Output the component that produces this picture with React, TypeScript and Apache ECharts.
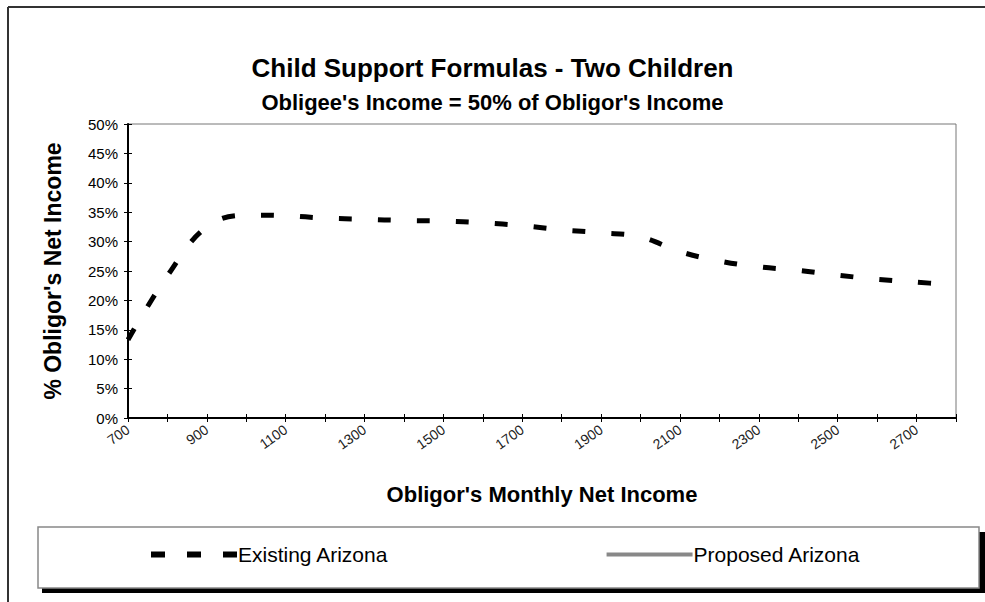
import React, { useEffect, useRef } from "react";
import * as echarts from "echarts";

// Obligor's monthly net income ($), one category per point on the curve
const incomeLevels: string[] = [
  "700", "800", "900", "1000", "1100", "1200", "1300", "1400", "1500", "1600", "1700",
  "1800", "1900", "2000", "2100", "2200", "2300", "2400", "2500", "2600", "2700", "2800",
];

// Support as % of the obligor's net income
const existingArizona: number[] = [
  13.3, 24.2, 32.5, 34.5, 34.4, 34.0, 33.8, 33.6, 33.5, 33.2, 32.7,
  32.0, 31.5, 30.8, 28.3, 26.7, 25.7, 25.1, 24.3, 23.6, 23.1, 22.6,
];
const proposedArizona: (number | null)[] = [];

const seriesNames: string[] = ["Existing Arizona", "Proposed Arizona"];
const percentAxis: number[] = [0, 50, 5]; // min, max, step

const FONT = "'Liberation Sans', Arial, Helvetica, sans-serif";

export default function App() {
  const ref = useRef<HTMLDivElement>(null);

  useEffect(() => {
    document.body.style.margin = "0";
    if (!ref.current) return;
    const chart = echarts.init(ref.current, undefined, { renderer: "svg" });
    const [yMin, yMax, yStep] = percentAxis;

    chart.setOption({
      animation: false,
      backgroundColor: "#fff",
      textStyle: { fontFamily: FONT },
      title: {
        text: "Child Support Formulas - Two Children",
        subtext: "Obligee's Income = 50% of Obligor's Income",
        left: "center",
        top: 50,
        itemGap: 10,
        textStyle: { fontSize: 26, fontWeight: "bold", color: "#000", fontFamily: FONT },
        subtextStyle: { fontSize: 22, fontWeight: "bold", color: "#000", fontFamily: FONT },
      },
      grid: {
        left: 128,
        right: 29,
        top: 124,
        bottom: 184,
        show: true,
        borderColor: "#777",
        borderWidth: 1,
        backgroundColor: "#fff",
        containLabel: false,
      },
      legend: {
        left: 148,
        top: 544,
        padding: 0,
        itemWidth: 86,
        itemHeight: 24,
        itemGap: 216,
        selectedMode: false,
        textStyle: { fontSize: 21, color: "#000", fontFamily: FONT, padding: [0, 0, 0, -4] },
        data: [
          {
            name: seriesNames[0],
            itemStyle: { opacity: 0 },
            lineStyle: { color: "#000", width: 6, type: [14, 22], cap: "butt" },
          },
          {
            name: seriesNames[1],
            itemStyle: { opacity: 0 },
            lineStyle: { color: "#888", width: 4, type: "solid", cap: "butt" },
          },
        ],
      },
      xAxis: [
        {
          type: "category",
          data: incomeLevels,
          boundaryGap: false,
          position: "bottom",
          axisLine: { lineStyle: { color: "#000", width: 2 } },
          axisTick: { show: true, interval: 0, length: 4, lineStyle: { color: "#000", width: 1 } },
          axisLabel: {
            interval: 1,
            rotate: 35,
            fontSize: 14,
            color: "#222",
            margin: 10,
            fontFamily: FONT,
          },
          splitLine: { show: false },
          name: "Obligor's Monthly Net Income",
          nameLocation: "middle",
          nameGap: 65,
          nameTextStyle: { fontSize: 22, fontWeight: "bold", color: "#000", fontFamily: FONT },
        },
        {
          // inner half of the cross tick marks
          type: "category",
          data: incomeLevels,
          boundaryGap: false,
          position: "bottom",
          axisLine: { show: false },
          axisTick: { show: true, inside: true, interval: 0, length: 4, lineStyle: { color: "#000", width: 1 } },
          axisLabel: { show: false },
          splitLine: { show: false },
        },
      ],
      yAxis: [
        {
          type: "value",
          min: yMin,
          max: yMax,
          interval: yStep,
          position: "left",
          axisLine: { show: true, lineStyle: { color: "#000", width: 2 } },
          axisTick: { show: true, length: 4, lineStyle: { color: "#000", width: 1 } },
          axisLabel: {
            formatter: "{value}%",
            fontSize: 15,
            color: "#000",
            margin: 10,
            fontFamily: FONT,
          },
          splitLine: { show: false },
          name: "% Obligor's Net Income",
          nameLocation: "middle",
          nameGap: 64,
          nameTextStyle: { fontSize: 23, fontWeight: "bold", color: "#000", fontFamily: FONT },
        },
        {
          type: "value",
          min: yMin,
          max: yMax,
          interval: yStep,
          position: "left",
          axisLine: { show: false },
          axisTick: { show: true, inside: true, length: 4, lineStyle: { color: "#000", width: 1 } },
          axisLabel: { show: false },
          splitLine: { show: false },
        },
      ],
      series: [
        {
          name: seriesNames[0],
          type: "line",
          data: existingArizona,
          smooth: 0.4,
          symbol: "none",
          itemStyle: { color: "#000" },
          lineStyle: { color: "#000", width: 5, type: [13, 26], cap: "butt" },
          z: 3,
        },
        {
          name: seriesNames[1],
          type: "line",
          data: proposedArizona,
          smooth: 0.4,
          symbol: "none",
          itemStyle: { color: "#888" },
          lineStyle: { color: "#888", width: 3 },
          z: 2,
        },
      ],
      graphic: [
        // outer chart frame (top and left edges)
        {
          type: "line",
          z: 1,
          shape: { x1: 8, y1: 7, x2: 985, y2: 7 },
          style: { stroke: "#333", lineWidth: 2 },
        },
        {
          type: "line",
          z: 1,
          shape: { x1: 8, y1: 7, x2: 8, y2: 602 },
          style: { stroke: "#333", lineWidth: 2 },
        },
        // legend box with its drop shadow
        {
          type: "rect",
          z: 1,
          shape: { x: 42, y: 532, width: 943, height: 61 },
          style: { fill: "#000" },
        },
        {
          type: "rect",
          z: 1,
          shape: { x: 38, y: 527, width: 941, height: 61 },
          style: { fill: "#fff", stroke: "#888", lineWidth: 1.5 },
        },
      ],
    });

    return () => chart.dispose();
  }, []);

  return (
    <div
      ref={ref}
      style={{ position: "absolute", left: 0, top: 0, width: 985, height: 602 }}
    />
  );
}
